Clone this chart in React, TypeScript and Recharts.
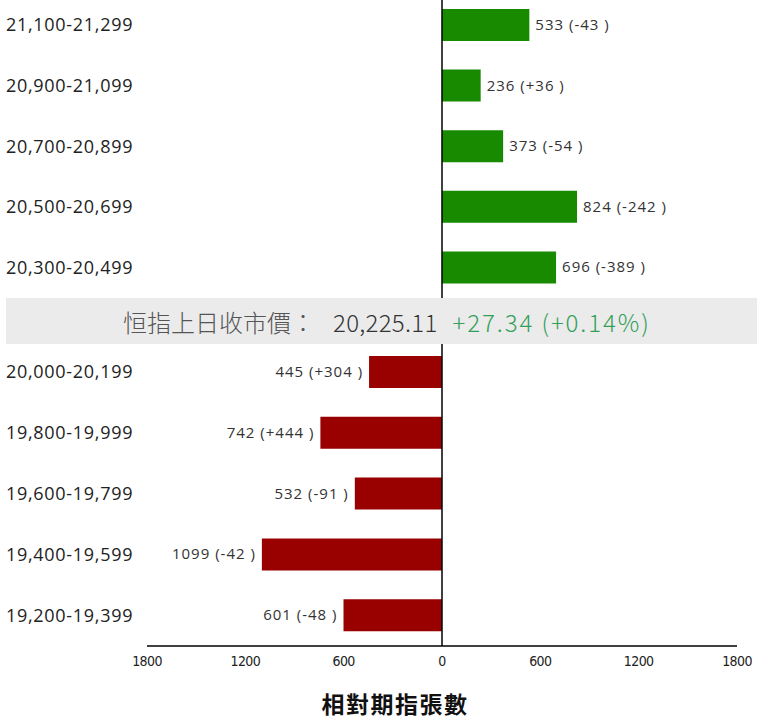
import React from "react";
import { BarChart, Bar, XAxis, YAxis, ReferenceLine, LabelList } from "recharts";

const upperRanges = ["21,100-21,299", "20,900-21,099", "20,700-20,899", "20,500-20,699", "20,300-20,499"];
const upperContracts = [533, 236, 373, 824, 696];
const upperChanges = ["-43", "+36", "-54", "-242", "-389"];

const lowerRanges = ["20,000-20,199", "19,800-19,999", "19,600-19,799", "19,400-19,599", "19,200-19,399"];
const lowerContracts = [445, 742, 532, 1099, 601];
const lowerChanges = ["+304", "+444", "-91", "-42", "-48"];

const xTicks = [-1800, -1200, -600, 0, 600, 1200, 1800];

const indexTitle = "恒指上日收市價：";
const lastClose = "20,225.11";
const closeChange = "+27.34";
const closePct = "+0.14%";
const axisTitle = "相對期指張數";

const GREEN = "#178a00";
const RED = "#990000";

const upperData = upperRanges.map((r, i) => ({
  range: r,
  value: upperContracts[i],
  text: `${upperContracts[i]} (${upperChanges[i]} )`,
}));
const lowerData = lowerRanges.map((r, i) => ({
  range: r,
  value: -lowerContracts[i],
  text: `${lowerContracts[i]} (${lowerChanges[i]} )`,
}));

const labelFont = "'Open Sans', 'DejaVu Sans', sans-serif";

function RangeTick(props: any) {
  const { y, payload } = props;
  return (
    <text x={6} y={y} dy={6} textAnchor="start" fontSize={18} letterSpacing={0.7} fill="#222" fontFamily={labelFont}>
      {payload.value}
    </text>
  );
}

function ValueLabel(props: any) {
  const { x, y, width, height, value, side } = props;
  const left = Math.min(x, x + width);
  const right = Math.max(x, x + width);
  const isLeft = side === "left";
  return (
    <text
      x={isLeft ? left - 6 : right + 6}
      y={y + height / 2}
      dy={5}
      textAnchor={isLeft ? "end" : "start"}
      fontSize={15}
      letterSpacing={1}
      fill="#333"
      fontFamily={labelFont}
    >
      {value}
    </text>
  );
}

function XTick(props: any) {
  const { x, y, payload } = props;
  return (
    <text x={x} y={y} dy={12} textAnchor="middle" fontSize={14} letterSpacing={-0.6} fill="#222" fontFamily="'DejaVu Sans Condensed', 'DejaVu Sans', sans-serif">
      {Math.abs(payload.value)}
    </text>
  );
}

export default function App() {
  return (
    <div style={{ position: "absolute", left: 0, top: 0, width: 757, height: 719, overflow: "hidden", background: "#fff" }}>
      <div style={{ position: "absolute", left: 0, top: -5 }}>
        <BarChart width={757} height={303} data={upperData} layout="vertical" margin={{ top: 0, right: 20, bottom: 0, left: 0 }}>
          <XAxis type="number" domain={[-1800, 1800]} ticks={xTicks} hide />
          <YAxis type="category" dataKey="range" width={147} axisLine={false} tickLine={false} tick={<RangeTick />} />
          <Bar dataKey="value" fill={GREEN} barSize={32} isAnimationActive={false}>
            <LabelList dataKey="text" content={(p: any) => <ValueLabel {...p} side="right" />} />
          </Bar>
          <ReferenceLine x={0} stroke="#000" strokeWidth={1.5} />
        </BarChart>
      </div>
      <div style={{ position: "absolute", left: 0, top: 341.5 }}>
        <BarChart width={757} height={344} data={lowerData} layout="vertical" margin={{ top: 0, right: 20, bottom: 0, left: 0 }}>
          <XAxis
            type="number"
            domain={[-1800, 1800]}
            ticks={xTicks}
            interval={0}
            height={40}
            axisLine={{ stroke: "#000", strokeWidth: 1.5 }}
            tickLine={false}
            tick={<XTick />}
          />
          <YAxis type="category" dataKey="range" width={147} axisLine={false} tickLine={false} tick={<RangeTick />} />
          <Bar dataKey="value" fill={RED} barSize={32} isAnimationActive={false}>
            <LabelList dataKey="text" content={(p: any) => <ValueLabel {...p} side="left" />} />
          </Bar>
          <ReferenceLine x={0} stroke="#000" strokeWidth={1.5} />
        </BarChart>
      </div>
      <div
        style={{
          position: "absolute",
          left: 6,
          top: 298,
          width: 751,
          height: 46,
          background: "#ebebeb",
          display: "flex",
          alignItems: "center",
          justifyContent: "flex-start",
          paddingLeft: 117,
          boxSizing: "border-box",
          fontFamily: "'Noto Sans CJK TC', sans-serif",
          fontSize: 24,
          fontWeight: 300,
          whiteSpace: "nowrap",
        }}
      >
        <span style={{ color: "#555" }}>{indexTitle}</span>
        <span style={{ color: "#333", marginLeft: 18, letterSpacing: 0.3 }}>{lastClose}</span>
        <span style={{ color: "#33a05a", marginLeft: 15, letterSpacing: 1.9 }}>{closeChange} ({closePct})</span>
      </div>
      <div
        style={{
          position: "absolute",
          left: 0,
          width: 790,
          top: 691,
          textAlign: "center",
          fontFamily: "'Noto Sans CJK TC', sans-serif",
          fontWeight: 700,
          fontSize: 23,
          letterSpacing: 1.5,
          color: "#111",
          lineHeight: "24px",
        }}
      >
        {axisTitle}
      </div>
    </div>
  );
}
